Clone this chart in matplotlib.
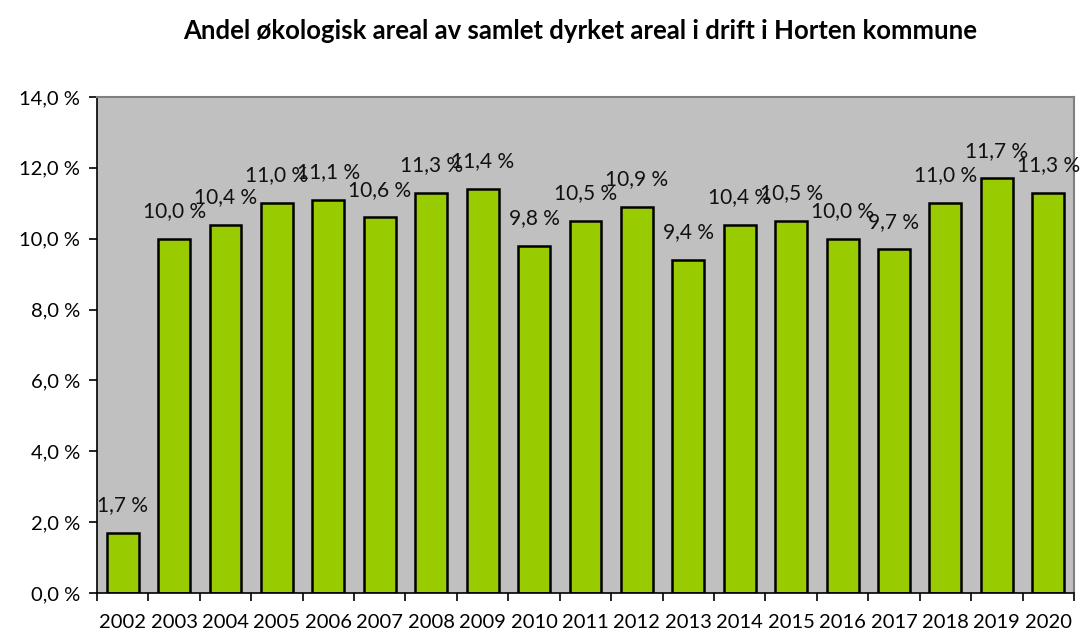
import matplotlib.pyplot as plt
from matplotlib.ticker import FixedLocator, FuncFormatter

years = ["2002", "2003", "2004", "2005", "2006", "2007", "2008", "2009", "2010", "2011",
         "2012", "2013", "2014", "2015", "2016", "2017", "2018", "2019", "2020"]
shares = [1.7, 10.0, 10.4, 11.0, 11.1, 10.6, 11.3, 11.4, 9.8, 10.5,
          10.9, 9.4, 10.4, 10.5, 10.0, 9.7, 11.0, 11.7, 11.3]

plt.rcParams['font.family'] = ['Lato', 'DejaVu Sans']

fig = plt.figure(figsize=(10.81, 6.37), dpi=100)
ax = fig.add_axes([0.0897, 0.0691, 0.9038, 0.7786])
ax.set_facecolor("#C0C0C0")

x = range(len(years))
ax.bar(x, shares, width=0.62, color="#99CC00", edgecolor="black", linewidth=1.8, zorder=2)

# data labels above bars (they overlap a bit, as in the original)
for i, v in zip(x, shares):
    ax.text(i, v + 0.5, f"{v:.1f} %".replace(".", ","), ha="center", va="bottom",
            fontsize=15, color="#111111", zorder=3)

ax.set_xlim(-0.5, len(years) - 0.5)
ax.set_ylim(0, 14)
ax.set_yticks([0, 2, 4, 6, 8, 10, 12, 14])
ax.yaxis.set_major_formatter(FuncFormatter(lambda v, p: f"{v:.1f} %".replace(".", ",")))
ax.set_xticks(list(x))
ax.set_xticklabels(years)
ax.xaxis.set_minor_locator(FixedLocator([i - 0.5 for i in range(len(years) + 1)]))
ax.tick_params(axis="x", which="major", length=0, pad=15, labelsize=14.5)
ax.tick_params(axis="x", which="minor", length=6, width=1.2, color="black")
ax.tick_params(axis="y", length=6, width=1.2, labelsize=14.5, pad=6)

for side in ["top", "right"]:
    ax.spines[side].set_color("#808080")
    ax.spines[side].set_linewidth(1.5)
ax.spines["left"].set_color("black")
ax.spines["bottom"].set_color("black")
ax.spines["left"].set_linewidth(1.2)
ax.spines["bottom"].set_linewidth(1.2)

fig.text(0.537, 0.952, "Andel økologisk areal av samlet dyrket areal i drift i Horten kommune",
         ha="center", va="center", fontsize=18.5, weight="bold")

fig.savefig("out.png", dpi=100)
